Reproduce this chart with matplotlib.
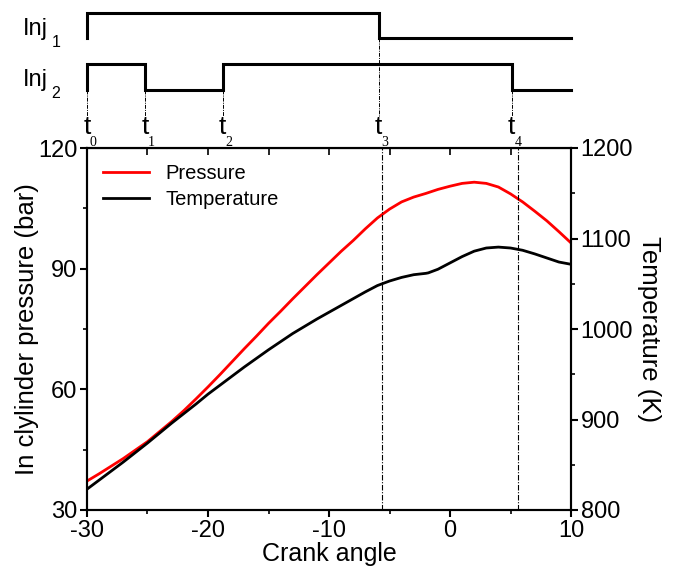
import numpy as np
import matplotlib.pyplot as plt

plt.rcParams['font.family'] = ['Liberation Sans', 'DejaVu Sans']
plt.rcParams['axes.unicode_minus'] = False

# cylinder pressure (bar) vs crank angle
p_angle = [-30, -29, -28, -27, -26, -25, -24, -23, -22, -21, -20, -19, -18,
           -17, -16, -15, -14, -13, -12, -11, -10, -9, -8, -7, -6, -5, -4,
           -3, -2, -1.8, -1, 0, 1, 2, 3, 4, 5, 6, 7, 8, 9, 10]
pressure = [37.2, 39.0, 40.9, 42.8, 44.9, 47.0, 49.5, 52.0, 54.7, 57.6, 60.6,
            63.7, 66.9, 70.1, 73.2, 76.4, 79.4, 82.5, 85.5, 88.5, 91.4, 94.3,
            97.0, 99.9, 102.6, 104.8, 106.6, 107.8, 108.7, 108.9, 109.7,
            110.5, 111.2, 111.5, 111.2, 110.3, 108.6, 106.6, 104.3, 101.9,
            99.2, 96.4]

# temperature (K) vs crank angle
t_angle = [-30, -29, -28, -27, -26, -25, -24, -23, -22, -21, -20, -19, -18,
           -17, -16, -15, -14, -13, -12, -11, -10, -9, -8, -7, -6, -5, -4,
           -3, -2, -1.8, -1, 0, 1, 2, 3, 4, 5, 6, 7, 8, 9, 10]
temperature = [823, 833, 843, 853, 863.5, 874, 885, 896, 906.5, 917, 928, 938,
               948, 958, 967.5, 977, 986, 995, 1003, 1011, 1018.5, 1026,
               1033.5, 1041, 1048, 1053, 1057, 1060, 1061.5, 1062, 1066, 1073,
               1080, 1086, 1089.5, 1090.5, 1089.5, 1087, 1083, 1078.5, 1074,
               1071.5]

# injection timing events
t_events = [-30, -25.2, -18.8, -5.9, 5.1]
t_names = ['0', '1', '2', '3', '4']
inj1_edges = [-30, -5.9]
inj2_edges = [-30, -25.2, -18.8, 5.1]
marker_angles = [-5.6, 5.6]


def steps(edges, end=10):
    xs, ys, s = [], [], 0
    for e in edges:
        xs += [e, e]
        ys += [s, 1 - s]
        s = 1 - s
    xs.append(end)
    ys.append(s)
    return np.array(xs), np.array(ys)


W, H = 673, 568
fig = plt.figure(figsize=(W / 100, H / 100), dpi=100)
L, R, T, B = 87, 571, 148, 510
ax = fig.add_axes([L / W, 1 - B / H, (R - L) / W, (B - T) / H])
ax2 = ax.twinx()

lp, = ax.plot(p_angle, pressure, color='#ff0000', lw=2.0)
lt, = ax2.plot(t_angle, temperature, color='black', lw=2.0)
for x in marker_angles:
    ax.axvline(x, color='black', lw=0.8, ls=(0, (5, 1.5, 1, 1.5)))

ax.set_xlim(-30, 10)
ax.set_ylim(30, 120)
ax2.set_ylim(800, 1200)
ax.set_xticks([-30, -20, -10, 0, 10])
ax.set_xticks([-25, -15, -5, 5], minor=True)
ax.set_yticks([30, 60, 90, 120])
ax.set_yticks([45, 75, 105], minor=True)
ax2.set_yticks([800, 900, 1000, 1100, 1200])
ax2.set_yticks([850, 950, 1050, 1150], minor=True)

for a in (ax, ax2):
    for s in a.spines.values():
        s.set_linewidth(1.5)
    a.tick_params(which='major', direction='out', length=5, width=1.5,
                  labelsize=17, pad=2)
    a.tick_params(which='minor', direction='out', length=3, width=1.2)

top = ax.secondary_xaxis('top')
top.set_xticks(np.arange(-30, 11, 5))
top.tick_params(direction='in', length=5, width=1.2, labeltop=False)

ax.set_xlabel('Crank angle', fontsize=18, labelpad=0)
ax.set_ylabel('In clylinder pressure (bar)', fontsize=18.5, labelpad=-1)
ax2.set_ylabel('Temperature (K)', fontsize=18.5, rotation=-90, labelpad=20)

ax.legend([lp, lt], ['Pressure', 'Temperature'], loc='upper left',
          frameon=False, fontsize=14.5, handlelength=2.3,
          bbox_to_anchor=(0.0, 1.0), borderaxespad=0.4, labelspacing=0.35)

# injection signal panel (y in pixels from top of figure)
axs = fig.add_axes([L / W, 1 - T / H, (R - L) / W, T / H])
axs.set_xlim(-30, 10)
axs.set_ylim(T, 0)
axs.axis('off')
axs.set_zorder(5)

levels = {'1': (12.5, 38), '2': (64, 90)}
for name, edges in (('1', inj1_edges), ('2', inj2_edges)):
    hi, lo = levels[name]
    xs, ys = steps(edges)
    axs.plot(xs, lo - ys * (lo - hi), color='black', lw=2.2,
             solid_joinstyle='miter', clip_on=False)
    fig.text(23 / W, 1 - (hi + 16) / H, 'Inj', fontsize=17,
             ha='left', va='center')
    fig.text(56 / W, 1 - (hi + 30) / H, name, fontsize=11.5,
             ha='center', va='center')

for t, n in zip(t_events, t_names):
    start = levels['1'][1] if n == '3' else levels['2'][1]
    axs.plot([t, t], [start, 116], color='black', lw=0.7,
             ls=(0, (4, 1.2, 1, 1.2)), clip_on=False)
    axs.text(t, 127, 't', fontsize=19, ha='center', va='center')
    axs.annotate(n, (t, 142), xytext=(4.5, 0), textcoords='offset points',
                 family=['Liberation Serif', 'DejaVu Serif'], fontsize=10,
                 ha='center', va='center')

fig.savefig('out.png', dpi=100)
